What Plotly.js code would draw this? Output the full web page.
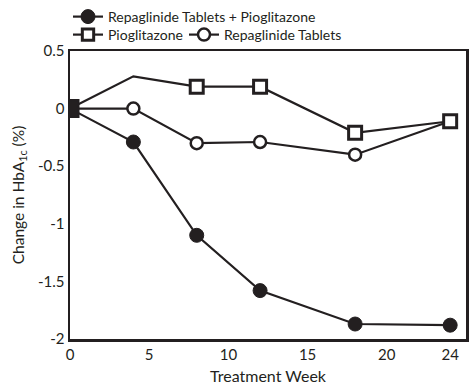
<!DOCTYPE html>
<html><head><meta charset="utf-8">
<script src="https://cdn.plot.ly/plotly-3.0.1.min.js"></script>
<style>html,body{margin:0;padding:0;background:#fff}</style>
</head><body>
<div id="chart" style="width:473px;height:390px"></div>
<script>
const weeks = [0, 4, 8, 12, 18, 24];
const comboName = "Repaglinide Tablets + Pioglitazone";
const pioName = "Pioglitazone";
const repName = "Repaglinide Tablets";
const comboVals = [0, -0.29, -1.10, -1.58, -1.87, -1.88];
const pioVals = [0, 0.28, 0.19, 0.19, -0.21, -0.11];
const repVals = [0, 0.0, -0.30, -0.29, -0.40, -0.11];
const xTickVals = [0, 5, 10, 15, 20, 24];
const xTickText = ["0", "5", "10", "15", "20", "24"];
const yTickVals = [0.5, 0, -0.5, -1, -1.5, -2];
const yTickText = ["0.5", "0", "-0.5", "-1", "-1.5", "-2"];

const ink = "#231f20";
const font = "Lato, 'Open Sans', sans-serif";

const traces = [
  {x: weeks, y: comboVals, name: comboName, mode: "lines+markers", legend: "legend",
   line: {color: ink, width: 2.2},
   marker: {symbol: "circle", size: 14, color: ink, opacity: 1, line: {color: ink, width: 1}}},
  {x: weeks, y: repVals, name: repName, mode: "lines+markers", legend: "legend3",
   line: {color: ink, width: 2.2},
   marker: {symbol: "circle", size: 12, color: "#fff", opacity: 1, line: {color: ink, width: 2.5}}},
  {x: weeks, y: pioVals, name: pioName, mode: "lines+markers", legend: "legend2",
   line: {color: ink, width: 2.2},
   marker: {symbol: "square", size: [16, 0, 13, 13, 13, 13], opacity: 1,
            color: "#fff", line: {color: ink, width: 3}}},
  {x: weeks.slice(0, 1), y: pioVals.slice(0, 1), name: "Baseline", mode: "markers",
   showlegend: false,
   marker: {symbol: "square", size: 16, color: ink, opacity: 1, line: {color: ink, width: 1}}}
];

const axisCommon = {
  showline: true, linecolor: ink, linewidth: 2.5, mirror: true,
  showgrid: false, zeroline: false, ticks: "",
  tickfont: {family: font, size: 15, color: ink},
  fixedrange: true
};

const legendCommon = {
  orientation: "h", xref: "container", yref: "container",
  xanchor: "left", yanchor: "top", font: {family: font, size: 14, color: ink},
  bgcolor: "rgba(0,0,0,0)", itemwidth: 30
};

const layout = {
  width: 473, height: 390,
  margin: {l: 70, r: 7, t: 47, b: 51},
  paper_bgcolor: "#fff", plot_bgcolor: "#fff",
  font: {family: font, color: ink},
  showlegend: true,
  xaxis: Object.assign({}, axisCommon, {
    range: [0, 25], tickmode: "array", tickvals: xTickVals, ticktext: xTickText,
    title: {text: "Treatment Week", font: {family: font, size: 16, color: ink}, standoff: 10}
  }),
  yaxis: Object.assign({}, axisCommon, {
    range: [-2, 0.5], tickmode: "array", tickvals: yTickVals, ticktext: yTickText,
    title: {text: "Change in HbA<sub>1c</sub> (%)", font: {family: font, size: 15.5, color: ink}, standoff: 10}
  }),
  legend: Object.assign({}, legendCommon, {x: 68/473, y: 1 - 1/390}),
  legend2: Object.assign({}, legendCommon, {x: 68/473, y: 1 - 19/390}),
  legend3: Object.assign({}, legendCommon, {x: 184/473, y: 1 - 19/390})
};

Plotly.newPlot("chart", traces, layout, {displayModeBar: false, staticPlot: true});
</script>
</body></html>
